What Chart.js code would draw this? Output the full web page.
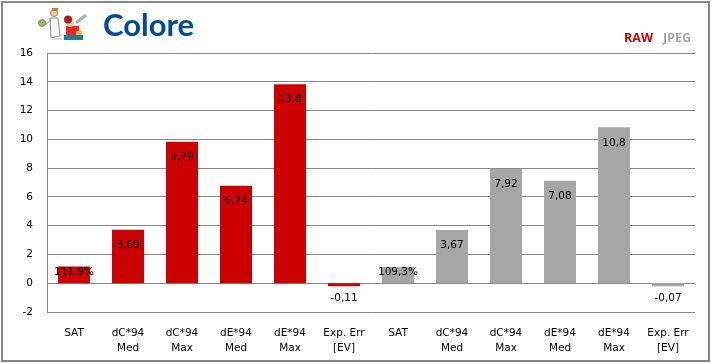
<!DOCTYPE html>
<html>
<head>
<meta charset="utf-8">
<style>
html, body { margin: 0; padding: 0; background: #fff; }
#wrap { position: relative; width: 712px; height: 363px; overflow: hidden; }
#frame { position: absolute; left: 1px; top: 1px; width: 705px; height: 357px; border: 2px solid #868686; box-sizing: content-box; }
#title { position: absolute; left: 103px; top: 5px; font: bold 31px Lato, sans-serif; color: #004b97; }
.key { position: absolute; top: 29px; font: bold 12.5px "Open Sans", sans-serif; }
canvas { position: absolute; left: 0; top: 0; }
</style>
</head>
<body>
<div id="wrap">
  <canvas id="chart" width="712" height="363"></canvas>
  <div id="frame"></div>
  <div id="title">Colore</div>
  <div class="key" style="left:624px;color:#cc0000">RAW</div>
  <div class="key" style="left:663px;color:#a6a6a6">JPEG</div>
</div>
<script src="https://cdn.jsdelivr.net/npm/chart.js@4"></script>
<script>
const categories = [
  ["SAT"], ["dC*94", "Med"], ["dC*94", "Max"], ["dE*94", "Med"], ["dE*94", "Max"], ["Exp. Err", "[EV]"],
  ["SAT"], ["dC*94", "Med"], ["dC*94", "Max"], ["dE*94", "Med"], ["dE*94", "Max"], ["Exp. Err", "[EV]"]
];
const values = [1.119, 3.69, 9.79, 6.74, 13.8, -0.11, 1.093, 3.67, 7.92, 7.08, 10.8, -0.07];
const valueLabels = ["111,9%", "3,69", "9,79", "6,74", "13,8", "-0,11", "109,3%", "3,67", "7,92", "7,08", "10,8", "-0,07"];
const barColors = ["#cc0000", "#cc0000", "#cc0000", "#cc0000", "#cc0000", "#cc0000",
  "#a6a6a6", "#a6a6a6", "#a6a6a6", "#a6a6a6", "#a6a6a6", "#a6a6a6"];

const fontName = "'DejaVu Sans', sans-serif";
const fontSize = 10.5;

// value labels sit just inside the top of the bar, under it when negative
const valueLabelPlugin = {
  id: "valueLabels",
  afterDatasetsDraw(chart) {
    const ctx = chart.ctx;
    const meta = chart.getDatasetMeta(0);
    ctx.save();
    ctx.font = fontSize + "px " + fontName;
    ctx.fillStyle = "#000";
    ctx.textAlign = "center";
    ctx.textBaseline = "middle";
    meta.data.forEach((bar, i) => {
      let y = bar.y + 15;
      if (values[i] < 0) y = bar.base + 15;
      if (valueLabels[i].endsWith("%")) y = bar.y + 5;
      ctx.fillText(valueLabels[i], bar.x, y);
    });
    ctx.restore();
  }
};

// little cartoon next to the title
const logoPlugin = {
  id: "logo",
  afterDraw(chart) {
    const ctx = chart.ctx;
    ctx.save();
    ctx.lineWidth = 1;
    // scientist
    ctx.fillStyle = "#f4f7f2"; ctx.strokeStyle = "#8a8f86";
    ctx.beginPath(); ctx.moveTo(50, 18); ctx.lineTo(58, 18); ctx.lineTo(60, 36); ctx.lineTo(51, 38); ctx.closePath(); ctx.fill(); ctx.stroke();
    ctx.beginPath(); ctx.moveTo(51, 20); ctx.lineTo(45, 25); ctx.stroke();
    ctx.fillStyle = "#f3c9a5"; ctx.beginPath(); ctx.arc(54, 13, 3.5, 0, 7); ctx.fill(); ctx.stroke();
    ctx.fillStyle = "#c9743c"; ctx.fillRect(52, 8, 6, 3);
    ctx.fillStyle = "#8cc63f"; ctx.beginPath(); ctx.arc(42, 23, 3.5, 0, 7); ctx.fill(); ctx.stroke();
    ctx.fillStyle = "#cfe3dc"; ctx.fillRect(50, 38, 12, 2);
    // second figure with test tube
    ctx.fillStyle = "#e8262a"; ctx.fillRect(66, 26, 13, 9);
    ctx.fillStyle = "#f2b233"; ctx.fillRect(76, 31, 6, 4);
    ctx.fillStyle = "#1f7f86"; ctx.fillRect(64, 35, 19, 5);
    ctx.fillStyle = "#f3c9a5"; ctx.beginPath(); ctx.arc(70, 23, 4, 0, 7); ctx.fill();
    ctx.fillStyle = "#b01a1a"; ctx.beginPath(); ctx.arc(68, 19.5, 4, 0, 7); ctx.fill();
    ctx.strokeStyle = "#9fb4bf"; ctx.lineWidth = 3;
    ctx.beginPath(); ctx.moveTo(76, 23); ctx.lineTo(86, 15); ctx.stroke();
    ctx.restore();
  }
};

new Chart(document.getElementById("chart"), {
  type: "bar",
  data: {
    labels: categories,
    datasets: [{ data: values, backgroundColor: barColors, categoryPercentage: 1, barPercentage: 0.575, inflateAmount: 0.5, minBarLength: 2.5 }]
  },
  options: {
    responsive: false,
    animation: false,
    layout: { padding: { left: 0, top: 53, right: 17, bottom: 0 } },
    plugins: { legend: { display: false }, tooltip: { enabled: false } },
    scales: {
      x: {
        afterFit(axis) { axis.height = 51; },
        grid: { display: false },
        border: { display: false },
        ticks: { color: "#000", font: { family: fontName, size: fontSize, lineHeight: 1.5 }, maxRotation: 0, autoSkip: false, padding: 5 }
      },
      y: {
        min: -2,
        max: 16,
        afterFit(axis) { axis.width = 47; },
        grid: { color: "#868686", lineWidth: 1, drawTicks: false },
        border: { color: "#868686" },
        ticks: { stepSize: 2, color: "#000", font: { family: fontName, size: fontSize }, padding: 14 }
      }
    }
  },
  plugins: [valueLabelPlugin, logoPlugin]
});
</script>
</body>
</html>
